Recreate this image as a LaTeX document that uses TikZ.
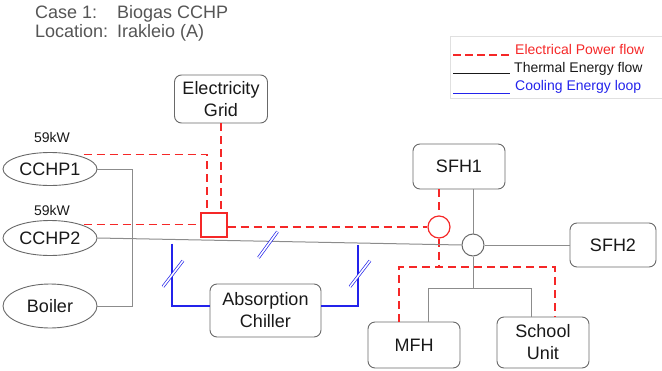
\documentclass[tikz,border=0pt]{standalone}
\usepackage{fontspec}
\setmainfont{Liberation Sans}
\usetikzlibrary{shapes.geometric,calc}

\definecolor{elec}{RGB}{245,40,40}
\definecolor{therm}{RGB}{140,140,140}
\definecolor{cool}{RGB}{35,35,235}
\definecolor{edge}{RGB}{105,105,105}
\definecolor{ink}{RGB}{25,25,25}
\definecolor{head}{RGB}{85,85,85}

\begin{document}
\begin{tikzpicture}[x=1pt,y=-1pt,
  unit/.style={draw=edge, rounded corners=7pt, line width=0.9pt, fill=white,
    text=ink, font=\fontsize{18}{22}\selectfont, align=center, inner sep=0pt},
  source/.style={ellipse, draw=edge, line width=0.9pt, fill=white, text=ink,
    font=\fontsize{18}{22}\selectfont, inner sep=0pt},
  rating/.style={text=ink, font=\fontsize{14}{16}\selectfont},
  epath/.style={color=elec, draw=elec, dash pattern=on 8pt off 5pt, line width=1.5pt},
  tpath/.style={color=therm, draw=therm, line width=1pt},
  cpath/.style={color=cool, draw=cool, line width=1.3pt},
  cutmark/.style={draw=cool, double=white, double distance=1.6pt, line width=0.7pt},
  headtext/.style={text=head, font=\fontsize{18}{22}\selectfont, anchor=base west, inner sep=0pt},
  legtext/.style={font=\fontsize{14}{16}\selectfont, anchor=base west, inner sep=0pt},
]
\useasboundingbox (0,0) rectangle (662,370);

% generation units
\node[source, minimum width=94pt, minimum height=33pt] (cchp1) at (50,169) {CCHP1};
\node[source, minimum width=94pt, minimum height=35pt] (cchp2) at (50,238) {CCHP2};
\node[source, minimum width=94pt, minimum height=44pt] (boiler) at (50,306) {Boiler};
\node[rating, anchor=base] (r1) at (52,142) {59kW};
\node[rating, anchor=base] (r2) at (52,215) {59kW};

% consumers and other units
\node[unit, minimum width=93pt, minimum height=48pt] (grid) at (221,99) {Electricity\\Grid};
\node[unit, minimum width=92pt, minimum height=45pt] (sfh1) at (459,166.5) {SFH1};
\node[unit, minimum width=86pt, minimum height=44pt] (sfh2) at (613,245) {SFH2};
\node[unit, minimum width=92pt, minimum height=46pt] (mfh) at (414,345) {MFH};
\node[unit, minimum width=92pt, minimum height=51pt] (school) at (543,342.5) {School\\Unit};
\node[unit, minimum width=111pt, minimum height=53pt] (chiller) at (265.5,310.5) {Absorption\\Chiller};

% junctions
\node[draw=elec, line width=1.2pt, minimum width=26pt, minimum height=24pt, inner sep=0pt] (sq) at (214,225) {};
\node[circle, draw=elec, line width=1.2pt, minimum size=22pt, inner sep=0pt] (rc) at (439,227) {};
\node[circle, draw=edge, line width=1pt, minimum size=22pt, inner sep=0pt] (hub) at (473,245) {};

% helper points
\coordinate (tk) at (132,0);
\coordinate (eL) at (399,267);
\coordinate (eR) at (555,267);
\coordinate (tL) at (428,288);
\coordinate (tR) at (531,288);
\coordinate (j1) at (172,243.5);
\coordinate (j2) at (358,244.5);
\coordinate (m1) at (173,273.7);
\coordinate (m2) at (360,273.7);
\coordinate (m3) at (268,244.7);

% electrical power flow
\draw[epath] ([yshift=2.33pt]cchp1.north east) -| ([xshift=-7pt]sq.north);
\draw[epath] (grid.south) -- (grid.south |- sq.north);
\draw[epath] ([yshift=0.6pt]cchp2.north east) -- ([yshift=0.6pt]cchp2.north east -| sq.west);
\draw[epath] (sq.east |- rc) -- (rc.west);
\draw[epath] (sfh1.south -| rc) -- (rc.north);
\draw[epath] (rc.south) -- (rc.south |- eL);
\draw[epath] (mfh.north -| eL) -- (eL) -- (eR) -- (school.north -| eR);

% thermal energy flow
\draw[tpath] (cchp1.east) -- (cchp1.east -| tk) -- (boiler.east -| tk) -- (boiler.east);
\draw[tpath] (cchp2.east) -- (hub.west);
\draw[tpath] (hub.east) -- (sfh2.west);
\draw[tpath] (sfh1.south -| hub) -- (hub.north);
\draw[tpath] (hub.south) -- (hub.south |- tL);
\draw[tpath] (mfh.north -| tL) -- (tL) -- (tR) -- (school.north -| tR);

% cooling energy loop
\draw[cpath] (j1) |- ([yshift=4.5pt]chiller.west);
\draw[cpath] ([yshift=4.5pt]chiller.east) -| (j2);
\draw[cutmark] ($(m1)+(-10,13)$) -- ($(m1)+(10,-13)$);
\draw[cutmark] ($(m2)+(-10,13)$) -- ($(m2)+(10,-13)$);
\draw[cutmark] ($(m3)+(-9.5,13)$) -- ($(m3)+(9.5,-13)$);

% heading
\node[headtext] (caseL) at (35,18) {Case 1:};
\node[headtext] (caseR) at (117,18) {Biogas CCHP};
\node[headtext] (locL) at (35,37) {Location:};
\node[headtext] (locR) at (117,37) {Irakleio (A)};

% legend
\draw[black!12, line width=0.8pt] (662,36) -- (450,36) -- (450,98) -- (662,98);
\draw[color=elec, draw=elec, line width=1.5pt, dash pattern=on 8pt off 4pt] (453,55) -- (509,55);
\draw[color=ink, draw=ink, line width=1pt] (453,73) -- (510,73);
\draw[color=cool, draw=cool, line width=1pt] (453,93) -- (510,93);
\node[legtext, text=elec] (legE) at (515,54) {Electrical Power flow};
\node[legtext, text=ink] (legT) at (514,72) {Thermal Energy flow};
\node[legtext, text=cool] (legC) at (515,90) {Cooling Energy loop};
\end{tikzpicture}
\end{document}
